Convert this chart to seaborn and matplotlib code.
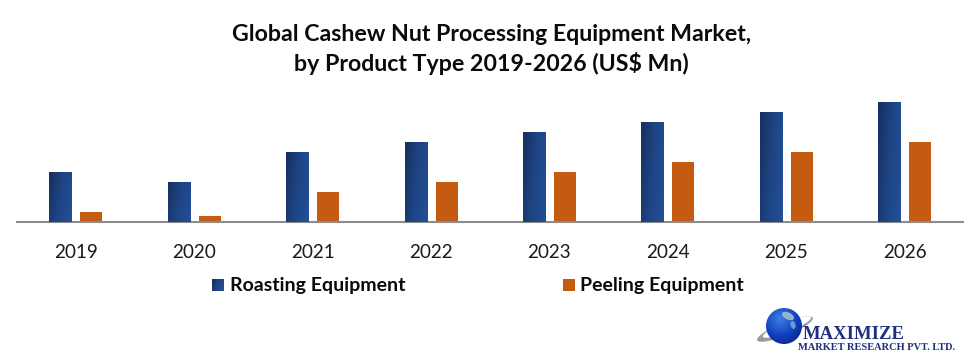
import numpy as np
import pandas as pd
import seaborn as sns
import matplotlib.pyplot as plt
from matplotlib.patches import Ellipse, Rectangle
from matplotlib.colors import LinearSegmentedColormap

years = ['2019', '2020', '2021', '2022', '2023', '2024', '2025', '2026']
roasting = [50, 40, 70, 80, 90, 100, 110, 120]
peeling = [10, 6, 30, 40, 50, 60, 70, 80]
series_names = ['Roasting Equipment', 'Peeling Equipment']
title_text = 'Global Cashew Nut Processing Equipment Market,\nby Product Type 2019-2026 (US$ Mn)'

W, H = 964, 351

sns.set_theme(style='white')
plt.rcParams['font.family'] = ['Lato', 'DejaVu Sans']

df = pd.DataFrame({
    'year': years * 2,
    'value': roasting + peeling,
    'series': [series_names[0]] * 8 + [series_names[1]] * 8,
})

fig = plt.figure(figsize=(W / 100, H / 100), dpi=100)
ax = fig.add_axes([16.5 / W, 1 - 222 / H, 947.5 / W, 122 / H])

sns.barplot(df, x='year', y='value', hue='series', hue_order=series_names,
            palette=['#1f4a8f', '#c55a11'], width=0.524, gap=0.29, saturation=1,
            linewidth=0, legend=False, ax=ax)
ax.set_xlabel('')
ax.set_ylabel('')
ax.set_yticks([])
ax.tick_params(axis='x', length=0, pad=15.5, labelsize=13.6, labelcolor='#1a1a1a')
sns.despine(ax=ax, left=True)
ax.spines['bottom'].set_color('#8c8c8c')
ax.spines['bottom'].set_linewidth(1.5)

# blue bars have a diagonal shade
blue_cmap = LinearSegmentedColormap.from_list('blue', ['#162f5e', '#1e4585', '#234f96'])
gy, gx = np.mgrid[0:1:60j, 0:1:60j]
grad = 0.75 * gx + 0.25 * gy
for bar in ax.containers[0]:
    x0, y0 = bar.get_x(), bar.get_y()
    im = ax.imshow(grad, cmap=blue_cmap, origin='upper',
                   extent=[x0, x0 + bar.get_width(), y0, y0 + bar.get_height()],
                   aspect='auto', interpolation='bilinear', zorder=3)
    im.set_clip_path(bar)
ax.set_xlim(-0.5, 7.5)
ax.set_ylim(0, 122)

fig.text(491.5 / W, 1 - 49.5 / H, title_text, ha='center', va='center', fontsize=16.7,
         fontweight='bold', color='#0a0a0a', linespacing=1.42)

# legend, placed by hand like the original
over = fig.add_axes([0, 0, 1, 1])
over.set_xlim(0, W)
over.set_ylim(H, 0)
over.axis('off')
over.patch.set_alpha(0)
over.imshow(grad, cmap=blue_cmap, extent=[212, 224, 291, 279], aspect='auto', interpolation='bilinear')
over.add_patch(Rectangle((563, 279), 12, 12, color='#c55a11', lw=0))
over.text(229.5, 285, series_names[0], va='center', fontsize=14, fontweight='bold', color='#0a0a0a')
over.text(579.5, 285, series_names[1], va='center', fontsize=14, fontweight='bold', color='#0a0a0a')

# logo
over.add_patch(Ellipse((785, 329), 60, 13, angle=-22, color='#9a9a9a', lw=0, zorder=2))
over.add_patch(Ellipse((787, 327), 52, 10, angle=-22, color='white', lw=0, zorder=2))
yy, xx = np.mgrid[-1:1:80j, -1:1:80j]
shade = np.sqrt((xx + 0.2) ** 2 + (yy + 0.4) ** 2)
globe_cmap = LinearSegmentedColormap.from_list('globe', ['#3f7fe0', '#1040c0', '#071a70'])
globe = over.imshow(shade, cmap=globe_cmap, extent=[766, 802, 344, 308], aspect='auto', zorder=3)
globe.set_clip_path(Ellipse((784, 326), 36, 36, transform=over.transData))
over.add_patch(Ellipse((788, 316), 13, 7, angle=25, color='#8fb4d0', lw=0, zorder=4))
over.add_patch(Ellipse((793, 325), 5, 8, angle=-15, color='#6f9cc8', lw=0, zorder=4))
over.text(803, 334.5, 'MAXIMIZE', family='Liberation Serif', fontsize=13.4, fontweight='bold',
          color='#1f2f80', va='center', zorder=5)
over.text(798, 347, 'MARKET RESEARCH PVT. LTD.', family='Liberation Serif', fontsize=7.5,
          fontweight='bold', color='#1f2f80', va='center', zorder=5)
over.set_xlim(0, W)
over.set_ylim(H, 0)

fig.savefig('out.png', dpi=100)
